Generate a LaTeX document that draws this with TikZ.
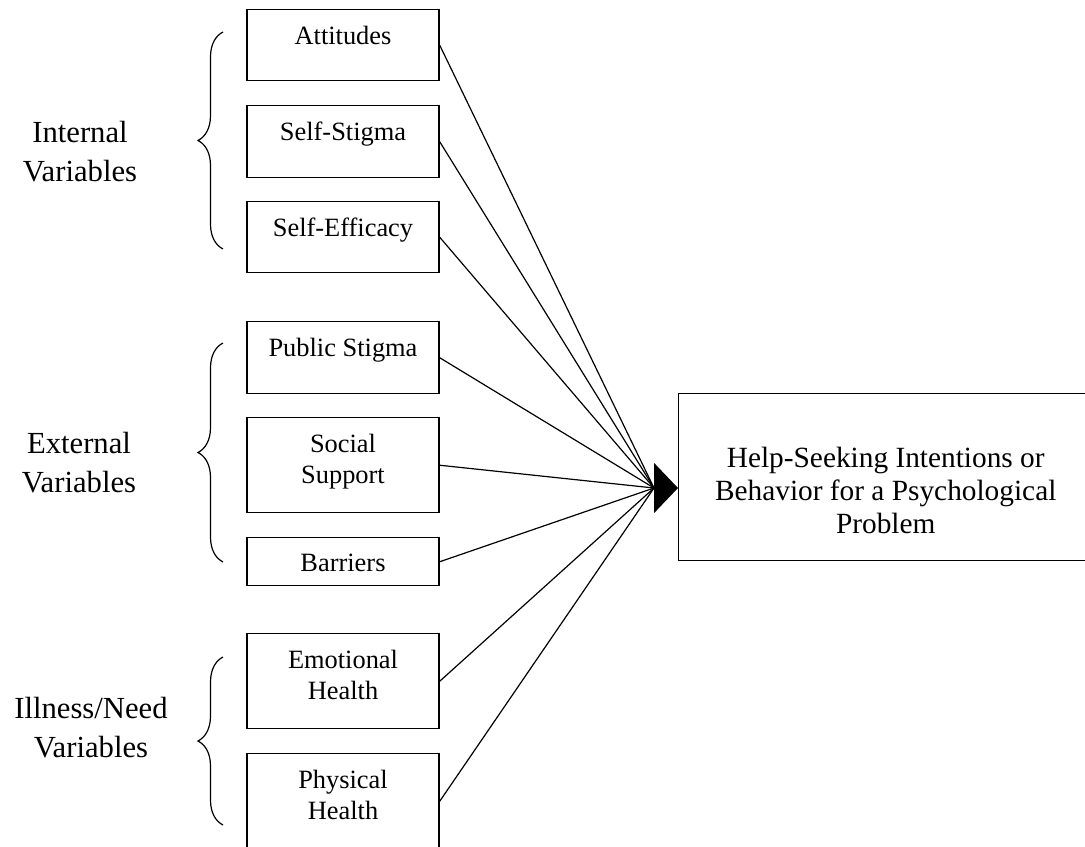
\documentclass[tikz,border=0pt]{standalone}
\usepackage{fontspec}
\setmainfont{Liberation Serif}
\usetikzlibrary{arrows.meta, decorations.pathreplacing, positioning}

\begin{document}
\begin{tikzpicture}[x=0.75pt,y=-0.75pt,line width=0.9pt,
	box/.style={draw, line width=1.1pt, minimum width=144pt, inner sep=0pt, anchor=north},
	boxtext/.style={anchor=north, yshift=-12.6pt, inner sep=0pt, align=center, font=\fontsize{19.8}{23.4}\selectfont},
	goaltext/.style={anchor=north, yshift=-40.5pt, inner sep=0pt, align=center, font=\fontsize{22}{24.5}\selectfont},
	group/.style={anchor=north, inner sep=0pt, align=center, font=\fontsize{23}{29.3}\selectfont},
	curly/.style={decorate, decoration={brace, amplitude=18.75pt}}]
	\useasboundingbox (0,0) rectangle (1085,846);
	% predictor boxes
	\node[box, minimum height=53.25pt, label={[boxtext]north:Attitudes}] (att) at (343,9) {};
	\node[box, minimum height=54pt, label={[boxtext]north:Self-Stigma}] (stig) at (343,105) {};
	\node[box, minimum height=53.25pt, label={[boxtext]north:Self-Efficacy}] (eff) at (343,201) {};
	\node[box, minimum height=54pt, label={[boxtext]north:Public Stigma}] (pub) at (343,321) {};
	\node[box, minimum height=71.25pt, label={[boxtext]north:Social\\Support}] (soc) at (343,417) {};
	\node[box, minimum height=36pt, label={[boxtext]north:Barriers}] (bar) at (343,537) {};
	\node[box, minimum height=71.25pt, label={[boxtext]north:Emotional\\Health}] (emo) at (343,633) {};
	\node[box, minimum height=71.25pt, label={[boxtext]north:Physical\\Health}] (phy) at (343,753) {};
	% outcome
	\node[box, anchor=north west, minimum width=310.5pt, minimum height=125.25pt,
		label={[goaltext]north:Help-Seeking Intentions or\\Behavior for a Psychological\\Problem}] (goal) at (678,393) {};
	% groups
	\node[group] (int) at (80,121) {Internal\\Variables};
	\node[group] (ext) at (79,432) {External\\Variables};
	\node[group] (ill) at (91,697) {Illness/Need\\Variables};
	\draw[curly] (223,249) -- (223,32);
	\draw[curly] (223,562) -- (223,343);
	\draw[curly] (223,825) -- (223,657);
	% paths
	\coordinate (hub) at (654,488);
	\path
		(att.east) edge (hub)
		(stig.east) edge (hub)
		(eff.east) edge (hub)
		(pub.east) edge (hub)
		(soc.east) edge (hub)
		(bar.east) edge (hub)
		(emo.east) edge (hub)
		(phy.east) edge (hub);
	\draw[-{Triangle[length=18pt,width=37.5pt]}] (hub) -- (hub -| goal.west);
\end{tikzpicture}
\end{document}
